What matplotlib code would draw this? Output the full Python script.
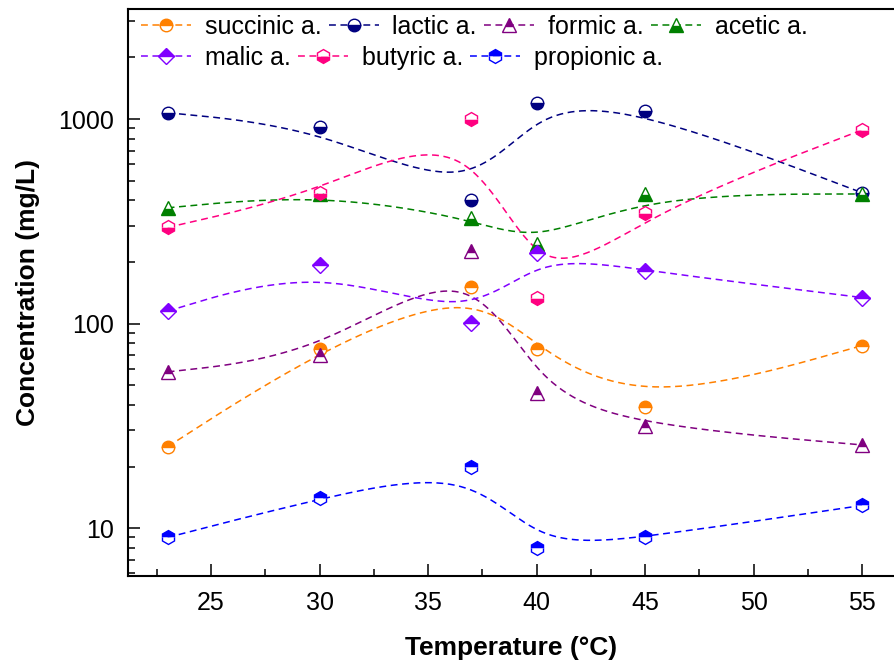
import numpy as np
import matplotlib
matplotlib.use("Agg")
from matplotlib import pyplot as plt
from matplotlib.lines import Line2D
from matplotlib.ticker import FixedLocator, NullFormatter

plt.rcParams['font.family'] = ['Liberation Sans', 'DejaVu Sans']

# data
temperature = [23, 30, 37, 40, 45, 55]

succinic = [25.0, 75.0, 151, 75.0, 39.2, 78.0]
lactic = [1073, 911, 402, 1193, 1098, 436]
formic = [58.0, 70.0, 227, 46.0, 31.5, 25.5]
acetic = [368, 432, 327, 245, 428, 430]
malic = [115, 193, 101, 220, 181, 134]
butyric = [295, 436, 1003, 134, 346, 884]
propionic = [9.0, 14.0, 19.9, 8.0, 9.0, 12.9]

labels = ["succinic a.", "lactic a.", "formic a.", "acetic a.",
          "malic a.", "butyric a.", "propionic a."]
series = [succinic, lactic, formic, acetic, malic, butyric, propionic]
colors = ["#FF8000", "#000080", "#800080", "#008000",
          "#8000FF", "#FF0080", "#0000FF"]
markers = ["o", "o", "^", "^", "D", "h", "h"]
fills = ["top", "bottom", "top", "bottom", "top", "bottom", "top"]
msizes = [9, 9, 10, 10, 8.2, 10, 10]


def bspline_curve(x, y, n=60):
    """Uniform cubic B-spline (end points tripled) through the points, log y"""
    px = np.asarray(x, float)
    py = np.log10(np.asarray(y, float))
    px = np.concatenate([[px[0]] * 2, px, [px[-1]] * 2])
    py = np.concatenate([[py[0]] * 2, py, [py[-1]] * 2])
    t = np.linspace(0, 1, n)
    b0 = (1 - t) ** 3 / 6
    b1 = (3 * t ** 3 - 6 * t ** 2 + 4) / 6
    b2 = (-3 * t ** 3 + 3 * t ** 2 + 3 * t + 1) / 6
    b3 = t ** 3 / 6
    cx, cy = [], []
    for i in range(len(px) - 3):
        cx.append(b0 * px[i] + b1 * px[i + 1] + b2 * px[i + 2] + b3 * px[i + 3])
        cy.append(b0 * py[i] + b1 * py[i + 1] + b2 * py[i + 2] + b3 * py[i + 3])
    return np.concatenate(cx), 10 ** np.concatenate(cy)


fig = plt.figure(figsize=(8.94, 6.68), dpi=100)
ax = fig.add_axes([128 / 894, 92 / 668, 766 / 894, 567 / 668])

dash = (0, (4.5, 3))
handles = []
for vals, lab, col, mk, fs, ms in zip(series, labels, colors, markers, fills, msizes):
    cx, cy = bspline_curve(temperature, vals)
    ax.plot(cx, cy, color=col, lw=1.1, linestyle=dash, zorder=2)
    ax.plot(temperature, vals, linestyle="none", marker=mk, ms=ms,
            color=col, fillstyle=fs, markerfacecoloralt="white",
            markeredgecolor=col, markeredgewidth=1.0, zorder=3)
    handles.append(Line2D([], [], color=col, lw=1.1, linestyle=dash,
                          marker=mk, ms=ms, fillstyle=fs,
                          markerfacecoloralt="white", markeredgecolor=col,
                          markeredgewidth=1.0))

ax.set_yscale("log")
ax.set_xlim(21.175, 56.47)
ax.set_ylim(5.83, 3450)

ax.set_xticks([25, 30, 35, 40, 45, 50, 55])
ax.xaxis.set_minor_locator(FixedLocator(np.arange(22.5, 57, 5)))
ax.set_yticks([10, 100, 1000])
ax.set_yticklabels(["10", "100", "1000"])
ax.yaxis.set_minor_formatter(NullFormatter())

ax.tick_params(which="both", direction="in", top=False, right=False,
               labelsize=18, width=1.1)
ax.tick_params(which="major", length=8.6)
ax.tick_params(which="minor", length=4.8)
ax.tick_params(axis="x", which="major", pad=11)
ax.tick_params(axis="y", which="major", pad=10)

for side in ["left", "bottom", "top"]:
    ax.spines[side].set_linewidth(1.5)
ax.spines["right"].set_visible(False)

ax.set_xlabel("Temperature (°C)", fontsize=19, fontweight="bold", labelpad=15)
ax.set_ylabel("Concentration (mg/L)", fontsize=19, fontweight="bold", labelpad=13)

leg_kw = dict(frameon=False, borderpad=0, borderaxespad=0, handlelength=2.0,
              handletextpad=0.55, columnspacing=0.29, fontsize=18,
              loc="center left", bbox_transform=fig.transFigure)
leg1 = ax.legend(handles[:4], labels[:4], ncol=4,
                 bbox_to_anchor=(141 / 894, 1 - 27 / 668), **leg_kw)
ax.add_artist(leg1)
ax.legend(handles[4:], labels[4:], ncol=3,
          bbox_to_anchor=(141 / 894, 1 - 58 / 668), **leg_kw)

plt.savefig("out.png", dpi=100)
